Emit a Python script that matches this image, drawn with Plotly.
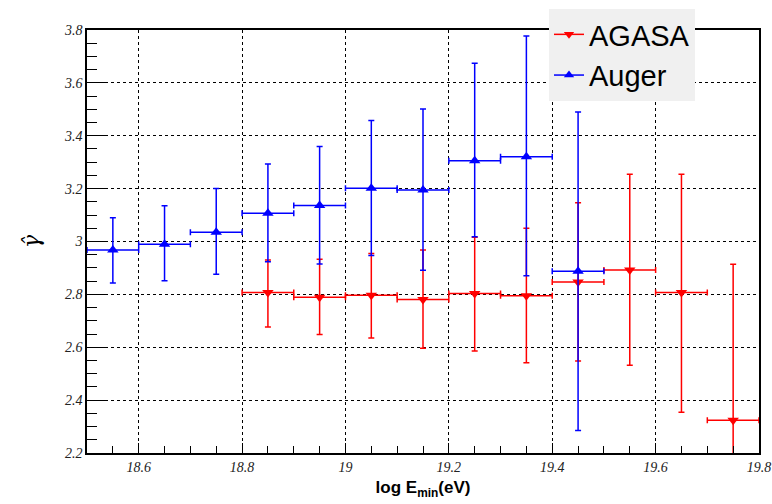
import plotly.graph_objects as go

# ---- data ----
auger_x = [18.55, 18.65, 18.75, 18.85, 18.95, 19.05, 19.15, 19.25, 19.35, 19.45]
auger_y = [2.968, 2.990, 3.035, 3.107, 3.136, 3.201, 3.195, 3.305, 3.321, 2.887]
auger_hi = [3.090, 3.135, 3.200, 3.293, 3.359, 3.458, 3.501, 3.674, 3.777, 3.490]
auger_lo = [2.843, 2.852, 2.876, 2.923, 2.915, 2.947, 2.891, 3.018, 2.870, 2.285]

agasa_x = [18.85, 18.95, 19.05, 19.15, 19.25, 19.35, 19.45, 19.55, 19.65, 19.75]
agasa_y = [2.807, 2.789, 2.797, 2.781, 2.803, 2.795, 2.847, 2.892, 2.807, 2.324]
agasa_hi = [2.930, 2.933, 2.955, 2.968, 3.016, 3.050, 3.147, 3.254, 3.254, 2.914]
agasa_lo = [2.677, 2.648, 2.635, 2.596, 2.586, 2.541, 2.548, 2.532, 2.354, 1.750]

bin_half = 0.05
x_ticks = [18.6, 18.8, 19.0, 19.2, 19.4, 19.6, 19.8]
y_ticks = [2.2, 2.4, 2.6, 2.8, 3.0, 3.2, 3.4, 3.6, 3.8]

RED = "#ff0000"
BLUE = "#0000ff"

fig = go.Figure()


def add_series(xs, ys, hi, lo, color, symbol):
    fig.add_trace(go.Scatter(
        x=xs, y=ys, mode="markers", showlegend=False,
        marker=dict(symbol=symbol, size=10, color=color),
        error_y=dict(type="data", symmetric=False,
                     array=[h - y for h, y in zip(hi, ys)],
                     arrayminus=[y - l for y, l in zip(ys, lo)],
                     color=color, thickness=1.5, width=3),
        error_x=dict(type="constant", value=bin_half, color=color,
                     thickness=1.5, width=3),
        cliponaxis=True,
    ))


add_series(agasa_x, agasa_y, agasa_hi, agasa_lo, RED, "triangle-down")
add_series(auger_x, auger_y, auger_hi, auger_lo, BLUE, "triangle-up")

# legend entries (line + marker)
fig.add_trace(go.Scatter(x=[None], y=[None], mode="lines+markers", name="AGASA",
                         line=dict(color=RED, width=1.5),
                         marker=dict(symbol="triangle-down", size=9, color=RED)))
fig.add_trace(go.Scatter(x=[None], y=[None], mode="lines+markers", name="Auger",
                         line=dict(color=BLUE, width=1.5),
                         marker=dict(symbol="triangle-up", size=9, color=BLUE)))

tickfont = dict(family="Liberation Serif", size=14, style="italic", color="#222")

fig.update_layout(
    width=772, height=504,
    margin=dict(l=87, r=13, t=30, b=51, autoexpand=False),
    paper_bgcolor="white", plot_bgcolor="white",
    showlegend=True,
    legend=dict(
        xref="paper", yref="paper",
        x=(549 - 87) / 672, y=(453 - 9) / 423, xanchor="left", yanchor="top",
        bgcolor="#f0f0f0", borderwidth=0,
        font=dict(family="Liberation Sans", size=29, color="black"),
        itemwidth=30, tracegroupgap=0,
    ),
    xaxis=dict(
        range=[18.5, 19.8], tickvals=x_ticks,
        ticktext=["18.6", "18.8", "19", "19.2", "19.4", "19.6", "19.8"],
        showgrid=True, gridcolor="black", griddash="dot", gridwidth=1,
        showline=True, linecolor="black", linewidth=1.5, mirror=True,
        ticks="inside", ticklen=10, tickcolor="black",
        minor=dict(dtick=0.05, tick0=18.5, ticks="inside", ticklen=7,
                   tickcolor="black", showgrid=False),
        tickfont=tickfont, zeroline=False, ticklabeloverflow="allow",
        title=dict(text="<b>log E<sub>min</sub>(eV)</b>",
                   font=dict(family="Liberation Sans", size=17, color="black"),
                   standoff=8),
    ),
    yaxis=dict(
        range=[2.2, 3.8], tickvals=y_ticks,
        ticktext=["2.2", "2.4", "2.6", "2.8", "3", "3.2", "3.4", "3.6", "3.8"],
        showgrid=True, gridcolor="black", griddash="dot", gridwidth=1,
        showline=True, linecolor="black", linewidth=1.5, mirror=True,
        ticks="inside", ticklen=19, tickcolor="black",
        minor=dict(dtick=0.05, tick0=2.2, ticks="inside", ticklen=10,
                   tickcolor="black", showgrid=False),
        tickfont=tickfont, zeroline=False,
        title=dict(text="γ\u0302",
                   font=dict(family="DejaVu Serif", size=22, color="black",
                             style="italic"),
                   standoff=18),
    ),
)

fig.write_html(
    "out.html",
    config={"displayModeBar": False},
    post_script="document.body.style.margin='0';document.body.style.overflow='hidden';",
)
